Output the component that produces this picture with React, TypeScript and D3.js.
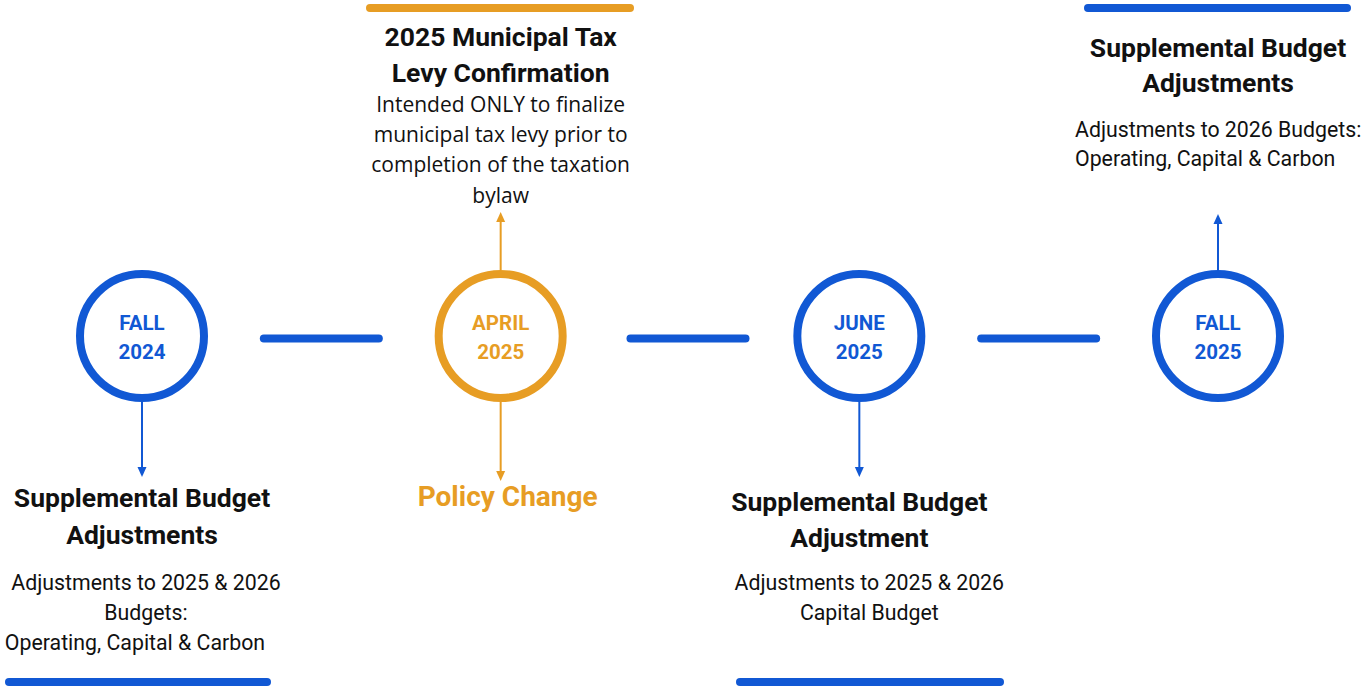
import React from "react";
import * as d3 from "d3";

const W = 1364;
const H = 689;

const milestoneIds = ["fall2024", "april2025", "june2025", "fall2025"];
const milestoneLine1 = ["FALL", "APRIL", "JUNE", "FALL"];
const milestoneLine2 = ["2024", "2025", "2025", "2025"];
const milestoneKind = ["blue", "orange", "blue", "blue"];

const fall2024Title = ["Supplemental Budget", "Adjustments"];
const fall2024Desc = ["Adjustments to 2025 & 2026", "Budgets:", "Operating, Capital & Carbon"];
const april2025Title = ["2025 Municipal Tax", "Levy Confirmation"];
const april2025Desc = ["Intended ONLY to finalize", "municipal tax levy prior to", "completion of the taxation", "bylaw"];
const april2025Below = "Policy Change";
const june2025Title = ["Supplemental Budget", "Adjustment"];
const june2025Desc = ["Adjustments to 2025 & 2026", "Capital Budget"];
const fall2025Title = ["Supplemental Budget", "Adjustments"];
const fall2025Desc = ["Adjustments to 2026 Budgets:", "Operating, Capital & Carbon"];

const BLUE = "#1158d4";
const ORANGE = "#e79d24";
const DARK = "#111111";

const ROBOTO = "Roboto, 'Noto Sans', sans-serif";
const OPEN = "'Open Sans', 'Noto Sans', sans-serif";

export default function App() {
  const x = d3.scalePoint<string>().domain(milestoneIds).range([142, 1218]);
  const cy = 336;
  const r = 62;
  const colorOf = (k: string) => (k === "orange" ? ORANGE : BLUE);
  const connectorShift = [0, 8, 0];

  const arrowDown = (cx: number, y1: number, y2: number, color: string) => {
    const p = d3.path();
    p.moveTo(cx - 4.5, y2 - 10);
    p.lineTo(cx + 4.5, y2 - 10);
    p.lineTo(cx, y2);
    p.closePath();
    return (
      <g>
        <line x1={cx} y1={y1} x2={cx} y2={y2 - 8} stroke={color} strokeWidth={2} />
        <path d={p.toString()} fill={color} />
      </g>
    );
  };
  const arrowUp = (cx: number, y1: number, y2: number, color: string) => {
    const p = d3.path();
    p.moveTo(cx - 4.5, y2 + 10);
    p.lineTo(cx + 4.5, y2 + 10);
    p.lineTo(cx, y2);
    p.closePath();
    return (
      <g>
        <line x1={cx} y1={y1} x2={cx} y2={y2 + 8} stroke={color} strokeWidth={2} />
        <path d={p.toString()} fill={color} />
      </g>
    );
  };

  const lines = (
    arr: string[],
    cx: number,
    y0: number,
    dy: number,
    opts: { size: number; weight: number; family: string; fill: string; anchor?: string; dxs?: number[] }
  ) =>
    arr.map((t, i) => (
      <text
        key={t + i}
        x={cx + (opts.dxs ? opts.dxs[i] || 0 : 0)}
        y={y0 + i * dy}
        textAnchor={(opts.anchor as any) || "middle"}
        fontFamily={opts.family}
        fontSize={opts.size}
        fontWeight={opts.weight}
        fill={opts.fill}
      >
        {t}
      </text>
    ));

  const x0 = x("fall2024")!;
  const x1 = x("april2025")!;
  const x2 = x("june2025")!;
  const x3 = x("fall2025")!;

  const titleStyle = { size: 26.5, weight: 700, family: ROBOTO, fill: DARK };
  const descStyle = { size: 21.3, weight: 400, family: ROBOTO, fill: DARK };

  return (
    <svg width={W} height={H} style={{ position: "absolute", left: 0, top: 0, background: "#fff" }}>
      {/* connectors */}
      {milestoneIds.slice(0, -1).map((id, i) => {
        const a = x(id)!;
        const b = x(milestoneIds[i + 1])!;
        const mid = (a + b) / 2 + connectorShift[i];
        return (
          <line key={"c" + id} x1={mid - 57.5} x2={mid + 57.5} y1={338.5} y2={338.5} stroke={BLUE} strokeWidth={8} strokeLinecap="round" />
        );
      })}
      {/* circles */}
      {milestoneIds.map((id, i) => {
        const c = colorOf(milestoneKind[i]);
        const cx = x(id)!;
        return (
          <g key={id}>
            <circle cx={cx} cy={cy} r={r} fill="#fff" stroke={c} strokeWidth={8} />
            <text x={cx} y={cy - 5.7} textAnchor="middle" fontFamily={ROBOTO} fontWeight={700} fontSize={20.5} fill={c}>
              {milestoneLine1[i]}
            </text>
            <text x={cx} y={cy + 23.3} textAnchor="middle" fontFamily={ROBOTO} fontWeight={700} fontSize={20.5} fill={c}>
              {milestoneLine2[i]}
            </text>
          </g>
        );
      })}

      {/* arrows */}
      {arrowDown(x0, cy + r + 4, 477, BLUE)}
      {arrowUp(x1, cy - r - 4, 212, ORANGE)}
      {arrowDown(x1, cy + r + 4, 481, ORANGE)}
      {arrowDown(x2, cy + r + 4, 477, BLUE)}
      {arrowUp(x3, cy - r - 4, 214, BLUE)}

      {/* Fall 2024 */}
      {lines(fall2024Title, x0, 507, 37, titleStyle)}
      {lines(fall2024Desc, x0, 589.6, 30, { ...descStyle, dxs: [4, 4, -7] })}
      <line x1={9} x2={267} y1={682} y2={682} stroke={BLUE} strokeWidth={8} strokeLinecap="round" />

      {/* April 2025 */}
      <line x1={370} x2={630} y1={8} y2={8} stroke={ORANGE} strokeWidth={8} strokeLinecap="round" />
      {lines(april2025Title, x1, 45.5, 36, titleStyle)}
      {lines(april2025Desc, x1, 111.5, 30.4, { ...descStyle, family: OPEN, size: 21 })}
      <text x={x1 + 7} y={506} textAnchor="middle" fontFamily={ROBOTO} fontWeight={700} fontSize={28} fill={ORANGE}>
        {april2025Below}
      </text>

      {/* June 2025 */}
      {lines(june2025Title, x2, 510.5, 36.5, titleStyle)}
      {lines(june2025Desc, x2 + 10, 589.6, 30, descStyle)}
      <line x1={740} x2={1000} y1={682} y2={682} stroke={BLUE} strokeWidth={8} strokeLinecap="round" />

      {/* Fall 2025 */}
      <line x1={1088} x2={1347} y1={8} y2={8} stroke={BLUE} strokeWidth={8} strokeLinecap="round" />
      {lines(fall2025Title, x3, 56.5, 35, titleStyle)}
      {lines(fall2025Desc, 1075, 136.5, 29.5, { ...descStyle, anchor: "start" })}
    </svg>
  );
}
